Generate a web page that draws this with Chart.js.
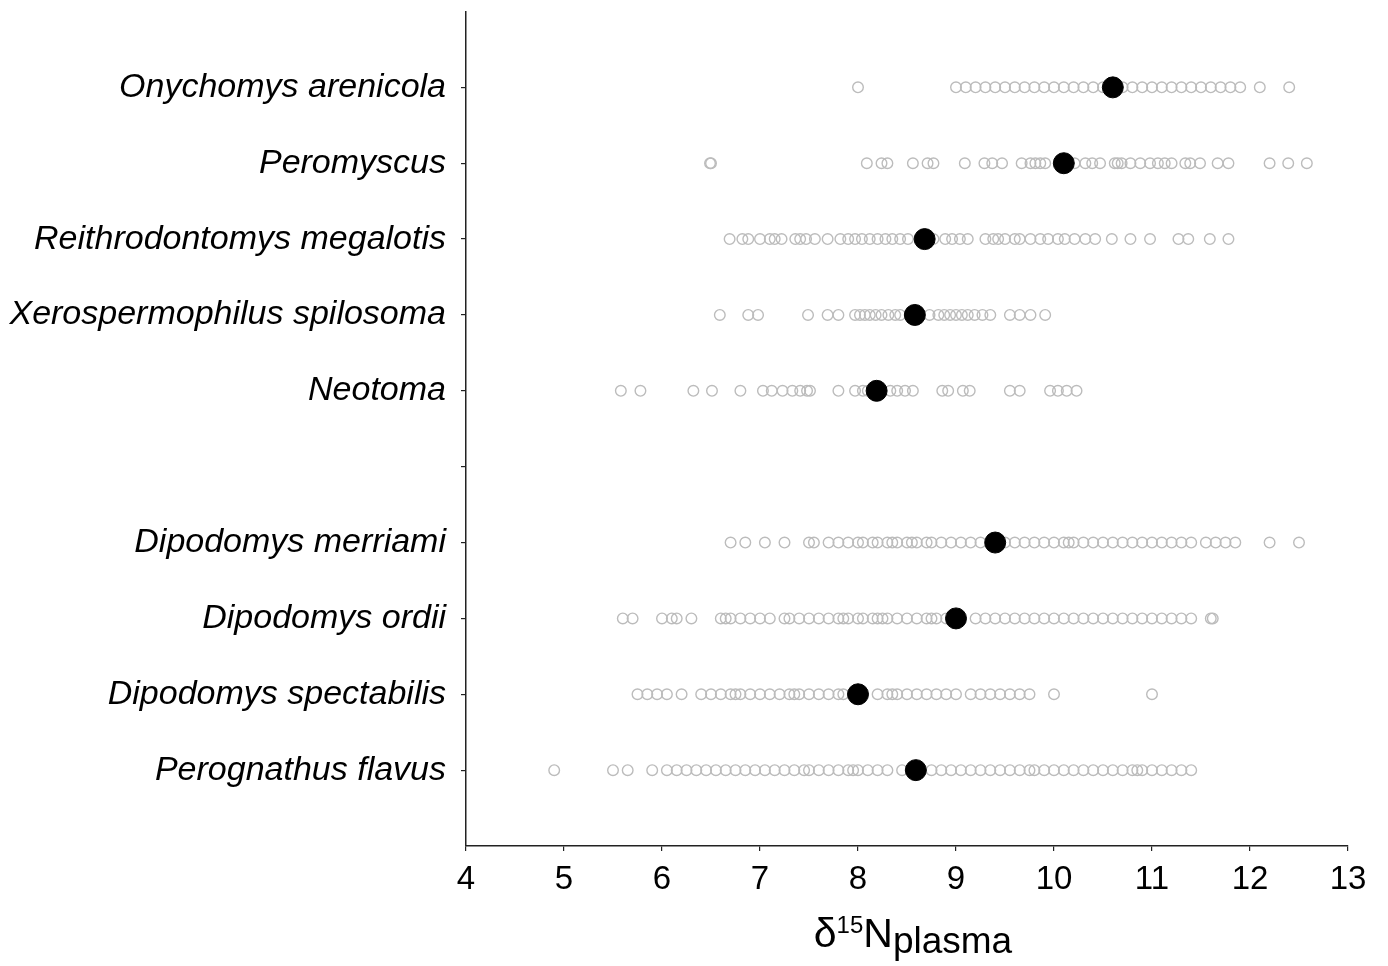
<!DOCTYPE html>
<html>
<head>
<meta charset="utf-8">
<script src="https://cdn.jsdelivr.net/npm/chart.js@4.4.1/dist/chart.umd.min.js"></script>
<style>
  html, body { margin: 0; padding: 0; background: #fff; }
  #chart { display: block; }
</style>
</head>
<body>
<canvas id="chart" width="1388" height="966"></canvas>
<script>
// species rows, top to bottom (empty row separates the two groups)
const species = [
  "Onychomys arenicola",
  "Peromyscus",
  "Reithrodontomys megalotis",
  "Xerospermophilus spilosoma",
  "Neotoma",
  "",
  "Dipodomys merriami",
  "Dipodomys ordii",
  "Dipodomys spectabilis",
  "Perognathus flavus",
];

const xTicks = [4, 5, 6, 7, 8, 9, 10, 11, 12, 13];

// individual d15N plasma values per species
const onychomys = [8.0, 9.0, 9.1, 9.2, 9.3, 9.4, 9.5, 9.6, 9.7, 9.8, 9.9, 10.0, 10.1, 10.2,
  10.3, 10.4, 10.5, 10.7, 10.8, 10.9, 11.0, 11.1, 11.2, 11.3, 11.4, 11.5, 11.6, 11.7, 11.8,
  11.9, 12.1, 12.4];
const peromyscus = [6.49, 6.5, 8.09, 8.24, 8.3, 8.56, 8.71, 8.77, 9.09, 9.29, 9.37, 9.47,
  9.67, 9.76, 9.81, 9.86, 9.91, 10.21, 10.32, 10.39, 10.47, 10.62, 10.65, 10.69, 10.78,
  10.88, 10.98, 11.06, 11.13, 11.2, 11.34, 11.39, 11.49, 11.67, 11.78, 12.2, 12.39, 12.58];
const reithrodontomys = [6.69, 6.82, 6.88, 7.0, 7.1, 7.15, 7.22, 7.36, 7.41, 7.47, 7.56,
  7.69, 7.82, 7.9, 7.97, 8.04, 8.12, 8.2, 8.28, 8.35, 8.43, 8.51, 8.77, 8.89, 8.96, 9.04,
  9.12, 9.3, 9.38, 9.43, 9.5, 9.6, 9.65, 9.76, 9.86, 9.94, 10.04, 10.11, 10.21, 10.32,
  10.42, 10.59, 10.78, 10.98, 11.27, 11.37, 11.59, 11.78];
const xerospermophilus = [6.59, 6.88, 6.98, 7.49, 7.69, 7.8, 7.97, 8.02, 8.07, 8.12, 8.18,
  8.24, 8.31, 8.38, 8.43, 8.73, 8.82, 8.88, 8.94, 9.0, 9.06, 9.12, 9.19, 9.27, 9.35, 9.55,
  9.65, 9.76, 9.91];
const neotoma = [5.58, 5.78, 6.32, 6.51, 6.8, 7.03, 7.12, 7.23, 7.33, 7.41, 7.48, 7.51, 7.8,
  7.97, 8.05, 8.1, 8.33, 8.4, 8.48, 8.56, 8.86, 8.92, 9.07, 9.14, 9.55, 9.65, 9.96, 10.04,
  10.13, 10.23];
const merriami = [6.7, 6.85, 7.05, 7.25, 7.5, 7.55, 7.7, 7.8, 7.9, 8.0, 8.05, 8.15, 8.2,
  8.3, 8.35, 8.4, 8.5, 8.55, 8.6, 8.7, 8.75, 8.85, 8.95, 9.05, 9.15, 9.25, 9.5, 9.6, 9.7,
  9.8, 9.9, 10.0, 10.1, 10.15, 10.2, 10.3, 10.4, 10.5, 10.6, 10.7, 10.8, 10.9, 11.0, 11.1,
  11.2, 11.3, 11.4, 11.55, 11.65, 11.75, 11.85, 12.2, 12.5];
const ordii = [5.6, 5.7, 6.0, 6.1, 6.15, 6.3, 6.6, 6.65, 6.7, 6.8, 6.9, 7.0, 7.1, 7.25, 7.3,
  7.4, 7.5, 7.6, 7.7, 7.8, 7.85, 7.9, 8.0, 8.05, 8.15, 8.2, 8.25, 8.3, 8.4, 8.5, 8.6, 8.7,
  8.75, 8.8, 8.9, 9.2, 9.3, 9.4, 9.5, 9.6, 9.7, 9.8, 9.9, 10.0, 10.1, 10.2, 10.3, 10.4,
  10.5, 10.6, 10.7, 10.8, 10.9, 11.0, 11.1, 11.2, 11.3, 11.4, 11.6, 11.62];
const spectabilis = [5.75, 5.85, 5.95, 6.05, 6.2, 6.4, 6.5, 6.6, 6.7, 6.75, 6.8, 6.9, 7.0,
  7.1, 7.2, 7.3, 7.35, 7.4, 7.5, 7.6, 7.7, 7.8, 7.85, 8.2, 8.3, 8.35, 8.4, 8.5, 8.6, 8.7,
  8.8, 8.9, 9.0, 9.15, 9.25, 9.35, 9.45, 9.55, 9.65, 9.75, 10.0, 11.0];
const flavus = [4.9, 5.5, 5.65, 5.9, 6.05, 6.15, 6.25, 6.35, 6.45, 6.55, 6.65, 6.75, 6.85,
  6.95, 7.05, 7.15, 7.25, 7.35, 7.45, 7.5, 7.6, 7.7, 7.8, 7.9, 7.95, 8.0, 8.1, 8.2, 8.3,
  8.45, 8.75, 8.85, 8.95, 9.05, 9.15, 9.25, 9.35, 9.45, 9.55, 9.65, 9.75, 9.8, 9.9, 10.0,
  10.1, 10.2, 10.3, 10.4, 10.5, 10.6, 10.7, 10.8, 10.85, 10.9, 11.0, 11.1, 11.2, 11.3, 11.4];

// species means (black dots)
const means = [10.6, 10.1, 8.68, 8.58, 8.19, null, 9.4, 9.0, 8.0, 8.59];

const individuals = [onychomys, peromyscus, reithrodontomys, xerospermophilus, neotoma,
  [], merriami, ordii, spectabilis, flavus];

const FONT = "'Liberation Sans', Arial, Helvetica, sans-serif";

const pointData = [];
individuals.forEach((vals, i) => {
  vals.forEach((v) => pointData.push({ x: v, y: i + 1 }));
});
const meanData = [];
means.forEach((m, i) => {
  if (m != null) meanData.push({ x: m, y: i + 1 });
});

// x axis title: delta 15 N with superscript and subscript
const xTitle = {
  id: "xTitle",
  afterDraw(chart) {
    const ctx = chart.ctx;
    const parts = [
      { t: "δ", size: 41, dy: 0 },
      { t: "15", size: 24, dy: -14 },
      { t: "N", size: 41, dy: 0 },
      { t: "plasma", size: 37, dy: 6 },
    ];
    ctx.save();
    ctx.fillStyle = "#000";
    ctx.textBaseline = "alphabetic";
    ctx.textAlign = "left";
    let total = 0;
    parts.forEach((p) => {
      ctx.font = `${p.size}px ${FONT}`;
      p.w = ctx.measureText(p.t).width;
      total += p.w;
    });
    const cx = (chart.chartArea.left + chart.chartArea.right) / 2 + 6;
    let x = cx - total / 2;
    const base = 947;
    parts.forEach((p) => {
      ctx.font = `${p.size}px ${FONT}`;
      ctx.fillText(p.t, x, base + p.dy);
      x += p.w;
    });
    ctx.restore();
  },
};

new Chart(document.getElementById("chart"), {
  type: "scatter",
  data: {
    datasets: [
      {
        label: "mean",
        data: meanData,
        pointRadius: 10.5,
        pointBackgroundColor: "#000",
        pointBorderColor: "#000",
        pointBorderWidth: 1,
      },
      {
        label: "individuals",
        data: pointData,
        pointRadius: 5.3,
        pointBackgroundColor: "rgba(255,255,255,0)",
        pointBorderColor: "#bcbcbc",
        pointBorderWidth: 1.4,
      },
    ],
  },
  options: {
    responsive: false,
    animation: false,
    layout: { padding: { top: 10, right: 40, left: 0, bottom: 0 } },
    plugins: { legend: { display: false }, tooltip: { enabled: false } },
    scales: {
      x: {
        type: "linear",
        min: 4,
        max: 13,
        afterBuildTicks: (axis) => { axis.ticks = xTicks.map((v) => ({ value: v })); },
        afterFit: (axis) => { axis.height = 120; },
        border: { color: "#222", width: 1.5 },
        grid: { drawOnChartArea: false, tickLength: 5, color: "#222", lineWidth: 1.2 },
        ticks: { color: "#000", padding: 9, font: { family: FONT, size: 33 } },
      },
      y: {
        type: "linear",
        min: 0,
        max: 11,
        reverse: true,
        afterBuildTicks: (axis) => { axis.ticks = species.map((s, i) => ({ value: i + 1 })); },
        afterFit: (axis) => {
          axis.width = 466;
          axis.paddingTop = 0;
          axis.paddingBottom = 0;
        },
        border: { color: "#222", width: 1.5 },
        grid: { drawOnChartArea: false, tickLength: 5, color: "#222", lineWidth: 1.2 },
        ticks: {
          color: "#000",
          padding: 15,
          font: { family: FONT, size: 34, style: "italic" },
          callback: (v) => species[v - 1] || "",
        },
      },
    },
  },
  plugins: [xTitle],
});
</script>
</body>
</html>
